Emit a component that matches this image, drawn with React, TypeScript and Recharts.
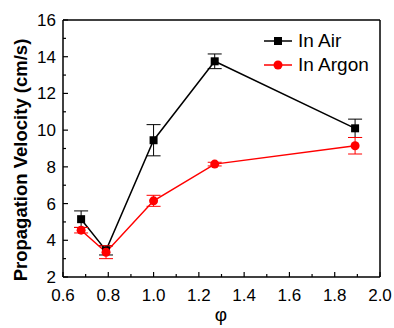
import React from 'react';
import { ComposedChart, Line, XAxis, YAxis, ErrorBar, ReferenceLine, Legend } from 'recharts';

const phi = [0.68, 0.79, 1.0, 1.27, 1.89];
const airVel = [5.15, 3.45, 9.45, 13.75, 10.1];
const airErr = [0.45, 0.25, 0.85, 0.4, 0.5];
const argonVel = [4.55, 3.35, 6.15, 8.15, 9.15];
const argonErr = [0.15, 0.35, 0.3, 0.1, 0.45];

const xTicks = [0.6, 0.7, 0.8, 0.9, 1.0, 1.1, 1.2, 1.3, 1.4, 1.5, 1.6, 1.7, 1.8, 1.9, 2.0];
const yTicks = [2, 3, 4, 5, 6, 7, 8, 9, 10, 11, 12, 13, 14, 15, 16];

const data = phi.map((p, i) => ({
  phi: p,
  air: airVel[i],
  airErr: airErr[i],
  argon: argonVel[i],
  argonErr: argonErr[i],
}));

const FONT = '"Liberation Sans", Arial, sans-serif';

const XTick = (props: any) => {
  const { x, y, index, payload } = props;
  const major = index % 2 === 0;
  return (
    <g>
      <line x1={x} x2={x} y1={y} y2={y - (major ? 5 : 3)} stroke="#000" strokeWidth={1.2} />
      {major && (
        <text x={x} y={y + 24} textAnchor="middle" fontSize={17} fontFamily={FONT} fill="#000">
          {Number(payload.value).toFixed(1)}
        </text>
      )}
    </g>
  );
};

const YTick = (props: any) => {
  const { x, y, index, payload } = props;
  const major = index % 2 === 0;
  return (
    <g>
      <line x1={x} x2={x + (major ? 5 : 3)} y1={y} y2={y} stroke="#000" strokeWidth={1.2} />
      {major && (
        <text x={x - 7} y={y + 6} textAnchor="end" fontSize={17} fontFamily={FONT} fill="#000">
          {payload.value}
        </text>
      )}
    </g>
  );
};

const SquareDot = (props: any) => {
  const { cx, cy } = props;
  if (cx == null || cy == null) return null;
  return <rect x={cx - 4} y={cy - 4} width={8} height={8} fill="#000" />;
};

const CircleDot = (props: any) => {
  const { cx, cy } = props;
  if (cx == null || cy == null) return null;
  return <circle cx={cx} cy={cy} r={4.5} fill="#ff0000" />;
};

const LegendContent = () => (
  <div style={{ fontFamily: FONT, fontSize: 19, lineHeight: '24px', color: '#000' }}>
    <div style={{ display: 'flex', alignItems: 'center', height: 24 }}>
      <svg width={34} height={12} style={{ marginRight: 2 }}>
        <line x1={2} x2={30} y1={6} y2={6} stroke="#000" strokeWidth={1.5} />
        <rect x={12} y={2} width={8} height={8} fill="#000" />
      </svg>
      <span>In Air</span>
    </div>
    <div style={{ display: 'flex', alignItems: 'center', height: 24 }}>
      <svg width={34} height={12} style={{ marginRight: 2 }}>
        <line x1={2} x2={30} y1={6} y2={6} stroke="#ff0000" strokeWidth={1.5} />
        <circle cx={16} cy={6} r={4.5} fill="#ff0000" />
      </svg>
      <span>In Argon</span>
    </div>
  </div>
);

const YLabel = () => (
  <text
    x={20}
    y={160}
    transform="rotate(-90, 20, 160)"
    textAnchor="middle"
    dominantBaseline="central"
    fontSize={18.5}
    fontWeight="bold"
    fontFamily={FONT}
    fill="#000"
  >
    Propagation Velocity (cm/s)
  </text>
);

const XLabel = () => (
  <text x={221} y={321} textAnchor="middle" fontSize={19} fontFamily={FONT} fill="#000">
    φ
  </text>
);

export default function App() {
  return (
    <div style={{ position: 'absolute', left: 0, top: 0, background: '#fff' }}>
      <ComposedChart
        width={394}
        height={328}
        data={data}
        margin={{ top: 20, right: 14, bottom: 0, left: 0 }}
      >
        <XAxis
          dataKey="phi"
          type="number"
          domain={[0.6, 2.0]}
          ticks={xTicks}
          interval={0}
          tickSize={0}
          tickMargin={0}
          tickLine={false}
          tick={<XTick />}
          height={51}
          axisLine={{ stroke: '#000', strokeWidth: 1.5 }}
          allowDataOverflow
          label={<XLabel />}
        />
        <YAxis
          type="number"
          domain={[2, 16]}
          ticks={yTicks}
          interval={0}
          tickSize={0}
          tickMargin={0}
          tickLine={false}
          tick={<YTick />}
          width={63}
          axisLine={{ stroke: '#000', strokeWidth: 1.5 }}
          allowDataOverflow
          label={<YLabel />}
        />
        <ReferenceLine y={16} stroke="#000" strokeWidth={1.5} />
        <ReferenceLine x={2.0} stroke="#000" strokeWidth={1.5} />
        <Line
          dataKey="air"
          stroke="#000"
          strokeWidth={1.5}
          dot={<SquareDot />}
          activeDot={false}
          isAnimationActive={false}
        >
          <ErrorBar dataKey="airErr" direction="y" width={7} stroke="#000" strokeWidth={1} isAnimationActive={false} />
        </Line>
        <Line
          dataKey="argon"
          stroke="#ff0000"
          strokeWidth={1.5}
          dot={<CircleDot />}
          activeDot={false}
          isAnimationActive={false}
        >
          <ErrorBar dataKey="argonErr" direction="y" width={7} stroke="#ff0000" strokeWidth={1} isAnimationActive={false} />
        </Line>
        <Legend
          layout="horizontal"
          verticalAlign="middle"
          align="center"
          content={<LegendContent />}
          wrapperStyle={{ position: 'absolute', left: 262, top: 29, width: 'auto' }}
        />
      </ComposedChart>
    </div>
  );
}
